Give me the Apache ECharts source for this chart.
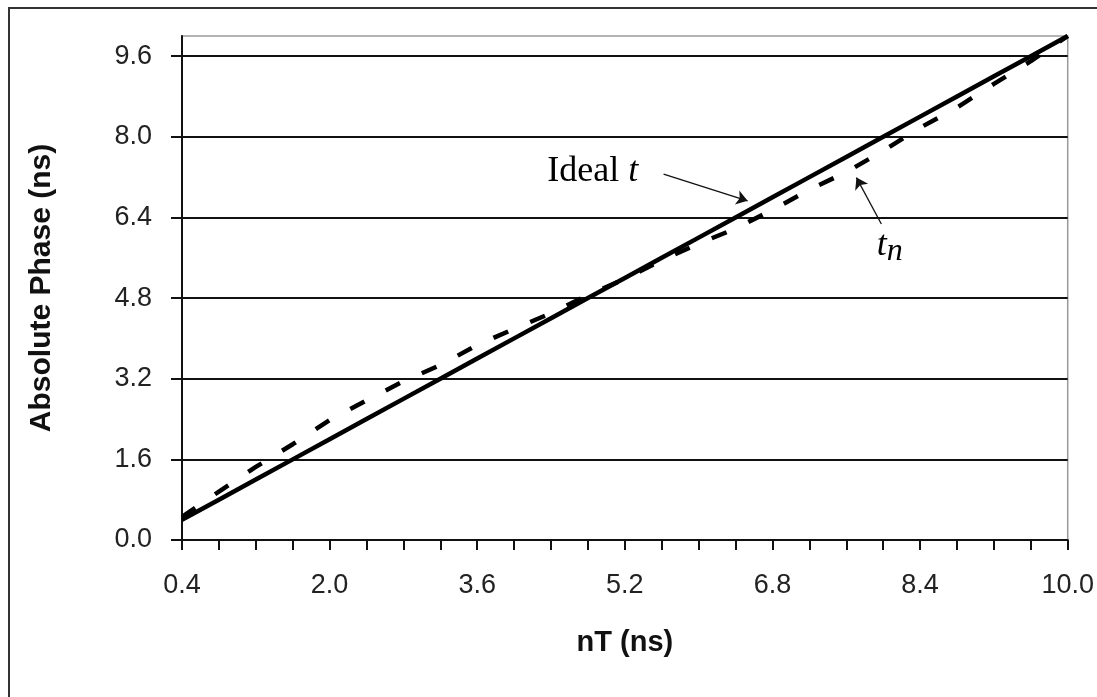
<!DOCTYPE html>
<html>
<head>
<meta charset="utf-8">
<script src="https://cdn.jsdelivr.net/npm/echarts@6/dist/echarts.min.js"></script>
<style>
  html, body { margin: 0; padding: 0; background: #fff; }
  #chart { width: 1097px; height: 697px; }
</style>
</head>
<body>
<div id="chart"></div>
<script>
// Sample instants nT (ns)
const nT = [0.4, 0.8, 1.2, 1.6, 2.0, 2.4, 2.8, 3.2, 3.6, 4.0, 4.4, 4.8, 5.2,
            5.6, 6.0, 6.4, 6.8, 7.2, 7.6, 8.0, 8.4, 8.8, 9.2, 9.6, 10.0];
// Ideal phase t (ns)
const idealT = [0.4, 0.8, 1.2, 1.6, 2.0, 2.4, 2.8, 3.2, 3.6, 4.0, 4.4, 4.8, 5.2,
                5.6, 6.0, 6.4, 6.8, 7.2, 7.6, 8.0, 8.4, 8.8, 9.2, 9.6, 10.0];
// Measured phase t_n (ns)
const measuredTn = [0.46, 0.96, 1.45, 1.90, 2.38, 2.77, 3.15, 3.47, 3.87, 4.19, 4.50, 4.86, 5.18,
                    5.55, 5.88, 6.18, 6.55, 6.95, 7.30, 7.72, 8.18, 8.58, 9.05, 9.50, 10.0];
// Axis tick labels
const xLabelValues = [0.4, 2.0, 3.6, 5.2, 6.8, 8.4, 10.0];
const yTickValues = [0.0, 1.6, 3.2, 4.8, 6.4, 8.0, 9.6];

// Annotation anchors in data coordinates
const idealLabelAt = [4.36, 7.32];
const idealArrow = [[5.62, 7.26], [6.53, 6.73]];
const tnLabelAt = [7.93, 5.85];
const tnArrow = [[7.98, 6.27], [7.71, 7.19]];

const zip = (xs, ys) => xs.map((x, i) => [x, ys[i]]);

const sansFont = '"Liberation Sans", Arial, sans-serif';
const serifFont = '"Liberation Serif", "Times New Roman", serif';

const chart = echarts.init(document.getElementById('chart'), null, { renderer: 'canvas' });

const arrowLine = (pts) => ({
  symbol: ['none', 'arrow'],
  symbolSize: 11,
  silent: true,
  label: { show: false },
  lineStyle: { color: '#111', width: 1.3, type: 'solid' },
  data: [[{ coord: pts[0] }, { coord: pts[1] }]]
});

chart.setOption({
  animation: false,
  backgroundColor: '#fff',
  grid: {
    left: 182, right: 25, top: 36, bottom: 157,
    show: true, borderColor: '#9a9a9a', borderWidth: 1.5, backgroundColor: 'transparent'
  },
  xAxis: {
    type: 'value',
    min: 0.4, max: 10.0, interval: 0.4,
    name: 'nT (ns)',
    nameLocation: 'middle',
    nameGap: 88,
    nameTextStyle: { fontFamily: sansFont, fontWeight: 'bold', fontSize: 29, color: '#111' },
    axisLine: { show: true, onZero: false, lineStyle: { color: '#111', width: 2 } },
    axisTick: { show: true, inside: false, length: 10, lineStyle: { color: '#111', width: 2 } },
    axisLabel: {
      show: true, margin: 32, fontFamily: sansFont, fontSize: 27, color: '#222',
      customValues: xLabelValues,
      formatter: (v) => v.toFixed(1)
    },
    splitLine: { show: false }
  },
  yAxis: {
    type: 'value',
    min: 0, max: 10,
    name: 'Absolute Phase (ns)',
    nameLocation: 'middle',
    nameGap: 125,
    nameTextStyle: { fontFamily: sansFont, fontWeight: 'bold', fontSize: 30, color: '#111' },
    axisLine: { show: true, onZero: false, lineStyle: { color: '#111', width: 2 } },
    axisTick: { show: true, inside: false, length: 11, customValues: yTickValues, lineStyle: { color: '#111', width: 2 } },
    axisLabel: {
      show: true, margin: 30, fontFamily: sansFont, fontSize: 27, color: '#222',
      customValues: yTickValues,
      formatter: (v) => v.toFixed(1)
    },
    splitLine: { show: true, lineStyle: { color: '#111', width: 2 } }
  },
  series: [
    {
      name: 't_n',
      type: 'line',
      data: zip(nT, measuredTn),
      showSymbol: false,
      symbol: 'none',
      lineStyle: { color: '#000', width: 4.5, type: [16, 24] },
      z: 3
    },
    {
      name: 'Ideal t',
      type: 'line',
      data: zip(nT, idealT),
      showSymbol: false,
      symbol: 'none',
      lineStyle: { color: '#000', width: 4.5, type: 'solid' },
      z: 4,
      markLine: arrowLine(idealArrow)
    },
    {
      name: 'tn-arrow',
      type: 'line',
      data: [],
      markLine: arrowLine(tnArrow)
    }
  ]
});

// Text annotations placed through the grid's coordinate system
const p1 = chart.convertToPixel({ gridIndex: 0 }, idealLabelAt);
const p2 = chart.convertToPixel({ gridIndex: 0 }, tnLabelAt);

chart.setOption({
  graphic: [
    {
      type: 'rect',
      shape: { x: 9, y: 8, width: 1300, height: 900 },
      style: { fill: 'none', stroke: '#333', lineWidth: 2 },
      silent: true, z: 0
    },
    {
      type: 'text',
      x: p1[0], y: p1[1],
      style: {
        text: '{a|Ideal }{b|t}',
        verticalAlign: 'middle',
        rich: {
          a: { fontFamily: serifFont, fontSize: 36, fill: '#000' },
          b: { fontFamily: serifFont, fontSize: 36, fontStyle: 'italic', fill: '#000' }
        }
      },
      z: 10
    },
    {
      type: 'text',
      x: p2[0], y: p2[1],
      style: {
        text: '{t|t}{n|n}',
        verticalAlign: 'middle',
        rich: {
          t: { fontFamily: serifFont, fontSize: 36, fontStyle: 'italic', fill: '#000' },
          n: { fontFamily: serifFont, fontSize: 32, fontStyle: 'italic', fill: '#000', padding: [12, 0, 0, 0] }
        }
      },
      z: 10
    }
  ]
});
</script>
</body>
</html>
